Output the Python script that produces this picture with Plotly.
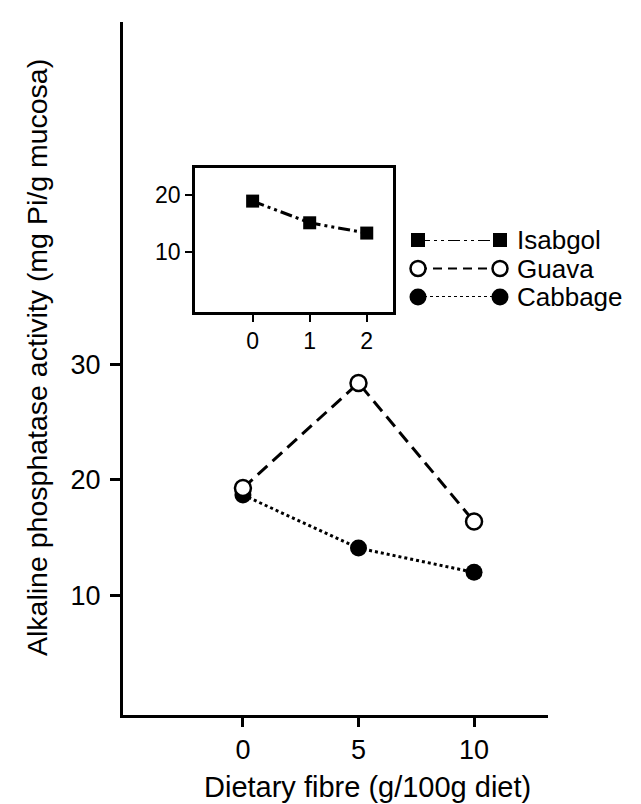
import plotly.graph_objects as go

# ---- data ----
fibre_levels = [0, 5, 10]
guava = [19.3, 28.4, 16.4]
cabbage = [18.7, 14.1, 12.0]

inset_levels = [0, 1, 2]
isabgol = [18.9, 15.1, 13.3]

main_xticks = [0, 5, 10]
main_yticks = [10, 20, 30]
inset_xticks = [0, 1, 2]
inset_yticks = [10, 20]

legend_names = ["Isabgol", "Guava", "Cabbage"]

FONT = "Liberation Sans, Arial, Helvetica, sans-serif"
W, H = 641, 804
L, R, T, B = 123, 93, 22, 89
PW, PH = W - L - R, H - T - B

def px_x(p):
    return (p - L) / PW

def px_y(p):
    return (H - B - p) / PH

fig = go.Figure()

# main traces
fig.add_trace(go.Scatter(
    x=fibre_levels, y=cabbage, mode="lines+markers", name="Cabbage",
    line=dict(color="black", width=3, dash="3px,3px"),
    marker=dict(symbol="circle", size=17, color="black", line=dict(width=0)),
    cliponaxis=False, showlegend=False))
fig.add_trace(go.Scatter(
    x=fibre_levels, y=guava, mode="lines+markers", name="Guava",
    line=dict(color="black", width=3, dash="13px,7px"),
    marker=dict(symbol="circle", size=16, color="white", line=dict(width=2.5, color="black")),
    cliponaxis=False, showlegend=False))

# inset trace
fig.add_trace(go.Scatter(
    x=inset_levels, y=isabgol, mode="lines+markers", name="Isabgol",
    xaxis="x2", yaxis="y2",
    line=dict(color="black", width=3, dash="12px,4px,3px,4px,3px,4px"),
    marker=dict(symbol="square", size=13, color="black", line=dict(width=0)),
    cliponaxis=False, showlegend=False))

# manual legend samples (both-end markers)
leg_styles = [
    dict(dash="12px,4px,3px,4px,3px,4px", symbol="square", size=14, fill="black", lw=0),
    dict(dash="9px,6px", symbol="circle", size=15, fill="white", lw=2.5),
    dict(dash="3px,3px", symbol="circle", size=17, fill="black", lw=0),
]
for i, (name, st) in enumerate(zip(legend_names, leg_styles)):
    fig.add_trace(go.Scatter(
        x=[0, 1], y=[i, i], mode="lines+markers", xaxis="x3", yaxis="y3",
        line=dict(color="black", width=2.2, dash=st["dash"]),
        marker=dict(symbol=st["symbol"], size=st["size"], color=st["fill"],
                    line=dict(width=st["lw"], color="black")),
        cliponaxis=False, showlegend=False, hoverinfo="skip"))
    fig.add_annotation(x=1, y=i, xref="x3", yref="y3", text=name, showarrow=False,
                       xanchor="left", yanchor="middle", xshift=15,
                       font=dict(family=FONT, size=26, color="black"))

axis_common = dict(showgrid=False, zeroline=False, showline=True, linecolor="black",
                   ticks="outside", tickcolor="black", tickfont=dict(family=FONT, size=27, color="black"))

fig.update_layout(
    width=W, height=H,
    margin=dict(l=L, r=R, t=T, b=B),
    paper_bgcolor="white", plot_bgcolor="white",
    xaxis=dict(domain=[0, 1], range=[-5.19, 13.2], tickvals=main_xticks,
               linewidth=3, ticklen=9, tickwidth=2.5, **axis_common),
    yaxis=dict(domain=[0, 1], range=[-0.35, 59.65], tickvals=main_yticks,
               linewidth=3, ticklen=10, tickwidth=2.5, ticklabelstandoff=4, **axis_common),
    xaxis2=dict(domain=[px_x(195), px_x(393)], range=[-1.01, 2.46], anchor="y2",
                tickvals=inset_xticks, mirror=True, linewidth=2.5, ticklen=7, tickwidth=2,
                showgrid=False, zeroline=False, showline=True, linecolor="black",
                ticks="outside", tickcolor="black",
                tickfont=dict(family=FONT, size=23, color="black")),
    yaxis2=dict(domain=[px_y(312), px_y(168)], range=[-0.53, 24.7], anchor="x2",
                tickvals=inset_yticks, mirror=True, linewidth=2.5, ticklen=7, tickwidth=2,
                showgrid=False, zeroline=False, showline=True, linecolor="black",
                ticks="outside", tickcolor="black",
                tickfont=dict(family=FONT, size=23, color="black")),
    xaxis3=dict(domain=[px_x(418), px_x(500)], range=[0, 1], anchor="y3", visible=False),
    yaxis3=dict(domain=[px_y(297), px_y(240)], range=[2, 0], anchor="x3", visible=False),
    showlegend=False,
)

# axis titles as annotations
fig.add_annotation(x=px_x(37), y=px_y(358), xref="paper", yref="paper",
                   text="Alkaline phosphatase activity (mg Pi/g mucosa)", textangle=-90,
                   showarrow=False, xanchor="center", yanchor="middle",
                   font=dict(family=FONT, size=28.5, color="black"))
fig.add_annotation(x=px_x(367.5), y=px_y(787), xref="paper", yref="paper",
                   text="Dietary fibre (g/100g diet)", showarrow=False,
                   xanchor="center", yanchor="middle",
                   font=dict(family=FONT, size=29, color="black"))

fig.write_html("out.html")
